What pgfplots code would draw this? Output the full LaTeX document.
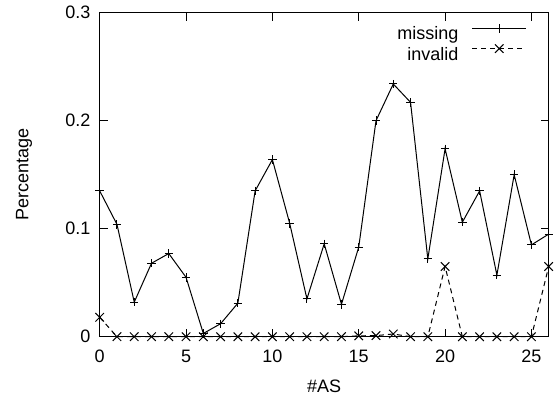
\documentclass[border=0pt]{standalone}
\usepackage{fontspec}
\setmainfont{Liberation Sans}
\usepackage{pgfplots}
\pgfplotsset{compat=1.18}
\pgfplotstableread{
x y
0 0.135
1 0.104
2 0.032
3 0.068
4 0.077
5 0.055
6 0.003
7 0.012
8 0.031
9 0.135
10 0.164
11 0.105
12 0.035
13 0.086
14 0.030
15 0.083
16 0.200
17 0.234
18 0.217
19 0.072
20 0.174
21 0.106
22 0.135
23 0.057
24 0.150
25 0.085
26 0.095
}\missing
\pgfplotstableread{
x y
0 0.018
1 0
2 0
3 0
4 0
5 0
6 0
7 0
8 0
9 0
10 0
11 0
12 0
13 0
14 0
15 0.0008
16 0.001
17 0.0025
18 0
19 0
20 0.065
21 0
22 0
23 0
24 0
25 0
26 0.065
}\invalid
\begin{document}
\begin{tikzpicture}[font=\fontsize{18bp}{21.6bp}\selectfont]
\useasboundingbox (-99.7bp,-59.3bp) rectangle (455.3bp,336.7bp);
\begin{axis}[
  at={(0,0)}, anchor=south west,
  scale only axis, width=449bp, height=324bp,
  xmin=0, xmax=26, ymin=0, ymax=0.3,
  xtick={0,5,...,25}, ytick={0,0.1,0.2,0.3},
  tick align=inside, major tick length=8bp,
  axis line style={line width=1.1bp},
  every tick/.style={line width=0.9bp, black},
  /pgf/number format/assume math mode=true,
  xticklabel style={anchor=center, yshift=-19.8bp},
  yticklabel style={anchor=east, xshift=-5.7bp},
  ylabel={Percentage},
  ylabel style={at={(axis description cs:-0.1686,0.5)}, anchor=center},
  xlabel={\#AS},
  xlabel style={at={(axis description cs:0.5,-0.153)}, anchor=center},
  clip=false,
  legend plot pos=right,
  legend cell align=right,
  legend style={draw=none, fill=none, inner sep=0pt, outer sep=0pt,
    at={(0.951,0.9645)}, anchor=north east,
    nodes={inner sep=0pt, text height=12.5bp, text depth=4.5bp},
    column sep=13.4bp, row sep=0pt},
  legend image code/.code={%
    \draw[mark repeat=2,mark phase=2,#1, yshift=7.5bp] plot coordinates {(0cm,0cm) (0.95cm,0cm) (1.9cm,0cm)};},
]
\addplot[black, line width=1bp, mark=+, mark size=4.2bp, mark options={solid}] table {\missing};
\addlegendentry{missing}
\addplot[black, line width=1bp, dash pattern=on 5bp off 4bp, mark=x, mark size=6bp, mark options={solid}] table {\invalid};
\addlegendentry{invalid}
\end{axis}
\end{tikzpicture}
\end{document}
